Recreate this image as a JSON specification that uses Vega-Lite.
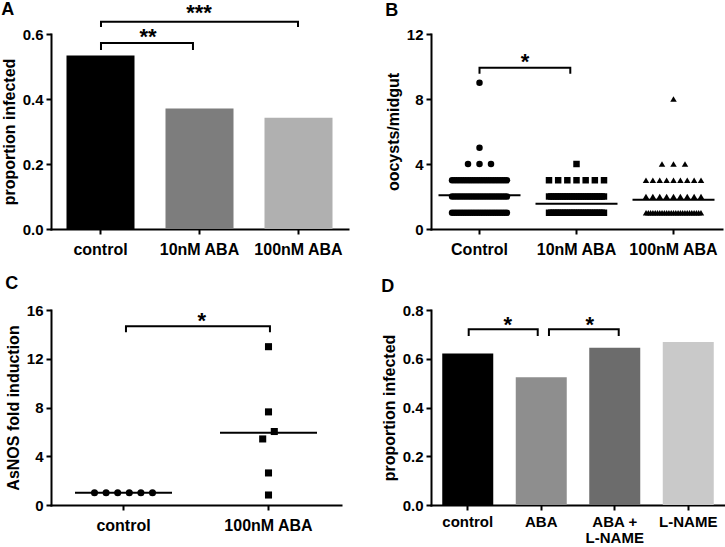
{
  "$schema": "https://vega.github.io/schema/vega-lite/v6.json",
  "padding": {"left": 1, "top": 0, "right": 0, "bottom": 0},
  "background": "white",
  "config": {
    "view": {"stroke": null},
    "font": "Liberation Sans",
    "axis": {
      "domainColor": "#000", "domainWidth": 2, "domainCap": "square",
      "tickColor": "#000", "tickWidth": 2, "tickSize": 5,
      "labelFont": "Liberation Sans", "labelFontWeight": "bold", "labelColor": "#000", "labelFontSize": 16, "labelPadding": 3,
      "titleFont": "Liberation Sans", "titleFontWeight": "bold", "titleColor": "#000", "titleFontSize": 16,
      "grid": false
    },
    "axisY": {"labelFontSize": 15, "titlePadding": 5},
    "axisX": {"labelAngle": 0, "labelPadding": 7},
    "title": {"anchor": "start", "font": "Liberation Sans", "fontSize": 18, "fontWeight": "bold", "color": "#000", "offset": 4}
  },
  "datasets": {
    "bp": [
      {"g":"Control","v":9,"k":0},
      {"g":"Control","v":5,"k":0},
      {"g":"Control","v":4,"k":-1},{"g":"Control","v":4,"k":0},{"g":"Control","v":4,"k":1},
      {"g":"Control","v":3,"k":-12},{"g":"Control","v":3,"k":-11},{"g":"Control","v":3,"k":-10},{"g":"Control","v":3,"k":-9},{"g":"Control","v":3,"k":-8},{"g":"Control","v":3,"k":-7},{"g":"Control","v":3,"k":-6},{"g":"Control","v":3,"k":-5},{"g":"Control","v":3,"k":-4},{"g":"Control","v":3,"k":-3},{"g":"Control","v":3,"k":-2},{"g":"Control","v":3,"k":-1},{"g":"Control","v":3,"k":0},{"g":"Control","v":3,"k":1},{"g":"Control","v":3,"k":2},{"g":"Control","v":3,"k":3},{"g":"Control","v":3,"k":4},{"g":"Control","v":3,"k":5},{"g":"Control","v":3,"k":6},{"g":"Control","v":3,"k":7},{"g":"Control","v":3,"k":8},{"g":"Control","v":3,"k":9},{"g":"Control","v":3,"k":10},{"g":"Control","v":3,"k":11},{"g":"Control","v":3,"k":12},
      {"g":"Control","v":2,"k":-12},{"g":"Control","v":2,"k":-11},{"g":"Control","v":2,"k":-10},{"g":"Control","v":2,"k":-9},{"g":"Control","v":2,"k":-8},{"g":"Control","v":2,"k":-7},{"g":"Control","v":2,"k":-6},{"g":"Control","v":2,"k":-5},{"g":"Control","v":2,"k":-4},{"g":"Control","v":2,"k":-3},{"g":"Control","v":2,"k":-2},{"g":"Control","v":2,"k":-1},{"g":"Control","v":2,"k":0},{"g":"Control","v":2,"k":1},{"g":"Control","v":2,"k":2},{"g":"Control","v":2,"k":3},{"g":"Control","v":2,"k":4},{"g":"Control","v":2,"k":5},{"g":"Control","v":2,"k":6},{"g":"Control","v":2,"k":7},{"g":"Control","v":2,"k":8},{"g":"Control","v":2,"k":9},{"g":"Control","v":2,"k":10},{"g":"Control","v":2,"k":11},{"g":"Control","v":2,"k":12},
      {"g":"Control","v":1,"k":-12},{"g":"Control","v":1,"k":-11},{"g":"Control","v":1,"k":-10},{"g":"Control","v":1,"k":-9},{"g":"Control","v":1,"k":-8},{"g":"Control","v":1,"k":-7},{"g":"Control","v":1,"k":-6},{"g":"Control","v":1,"k":-5},{"g":"Control","v":1,"k":-4},{"g":"Control","v":1,"k":-3},{"g":"Control","v":1,"k":-2},{"g":"Control","v":1,"k":-1},{"g":"Control","v":1,"k":0},{"g":"Control","v":1,"k":1},{"g":"Control","v":1,"k":2},{"g":"Control","v":1,"k":3},{"g":"Control","v":1,"k":4},{"g":"Control","v":1,"k":5},{"g":"Control","v":1,"k":6},{"g":"Control","v":1,"k":7},{"g":"Control","v":1,"k":8},{"g":"Control","v":1,"k":9},{"g":"Control","v":1,"k":10},{"g":"Control","v":1,"k":11},{"g":"Control","v":1,"k":12},
      {"g":"10nM ABA","v":4,"k":0},
      {"g":"10nM ABA","v":3,"k":-3},{"g":"10nM ABA","v":3,"k":-2},{"g":"10nM ABA","v":3,"k":-1},{"g":"10nM ABA","v":3,"k":0},{"g":"10nM ABA","v":3,"k":1},{"g":"10nM ABA","v":3,"k":2},{"g":"10nM ABA","v":3,"k":3},
      {"g":"10nM ABA","v":2,"k":-12},{"g":"10nM ABA","v":2,"k":-11},{"g":"10nM ABA","v":2,"k":-10},{"g":"10nM ABA","v":2,"k":-9},{"g":"10nM ABA","v":2,"k":-8},{"g":"10nM ABA","v":2,"k":-7},{"g":"10nM ABA","v":2,"k":-6},{"g":"10nM ABA","v":2,"k":-5},{"g":"10nM ABA","v":2,"k":-4},{"g":"10nM ABA","v":2,"k":-3},{"g":"10nM ABA","v":2,"k":-2},{"g":"10nM ABA","v":2,"k":-1},{"g":"10nM ABA","v":2,"k":0},{"g":"10nM ABA","v":2,"k":1},{"g":"10nM ABA","v":2,"k":2},{"g":"10nM ABA","v":2,"k":3},{"g":"10nM ABA","v":2,"k":4},{"g":"10nM ABA","v":2,"k":5},{"g":"10nM ABA","v":2,"k":6},{"g":"10nM ABA","v":2,"k":7},{"g":"10nM ABA","v":2,"k":8},{"g":"10nM ABA","v":2,"k":9},{"g":"10nM ABA","v":2,"k":10},{"g":"10nM ABA","v":2,"k":11},{"g":"10nM ABA","v":2,"k":12},
      {"g":"10nM ABA","v":1,"k":-12},{"g":"10nM ABA","v":1,"k":-11},{"g":"10nM ABA","v":1,"k":-10},{"g":"10nM ABA","v":1,"k":-9},{"g":"10nM ABA","v":1,"k":-8},{"g":"10nM ABA","v":1,"k":-7},{"g":"10nM ABA","v":1,"k":-6},{"g":"10nM ABA","v":1,"k":-5},{"g":"10nM ABA","v":1,"k":-4},{"g":"10nM ABA","v":1,"k":-3},{"g":"10nM ABA","v":1,"k":-2},{"g":"10nM ABA","v":1,"k":-1},{"g":"10nM ABA","v":1,"k":0},{"g":"10nM ABA","v":1,"k":1},{"g":"10nM ABA","v":1,"k":2},{"g":"10nM ABA","v":1,"k":3},{"g":"10nM ABA","v":1,"k":4},{"g":"10nM ABA","v":1,"k":5},{"g":"10nM ABA","v":1,"k":6},{"g":"10nM ABA","v":1,"k":7},{"g":"10nM ABA","v":1,"k":8},{"g":"10nM ABA","v":1,"k":9},{"g":"10nM ABA","v":1,"k":10},{"g":"10nM ABA","v":1,"k":11},{"g":"10nM ABA","v":1,"k":12},
      {"g":"100nM ABA","v":8,"k":0},
      {"g":"100nM ABA","v":4,"k":-1},{"g":"100nM ABA","v":4,"k":0},{"g":"100nM ABA","v":4,"k":1},
      {"g":"100nM ABA","v":3,"k":-4},{"g":"100nM ABA","v":3,"k":-3},{"g":"100nM ABA","v":3,"k":-2},{"g":"100nM ABA","v":3,"k":-1},{"g":"100nM ABA","v":3,"k":0},{"g":"100nM ABA","v":3,"k":1},{"g":"100nM ABA","v":3,"k":2},{"g":"100nM ABA","v":3,"k":3},{"g":"100nM ABA","v":3,"k":4},
      {"g":"100nM ABA","v":2,"k":-4},{"g":"100nM ABA","v":2,"k":-3},{"g":"100nM ABA","v":2,"k":-2},{"g":"100nM ABA","v":2,"k":-1},{"g":"100nM ABA","v":2,"k":0},{"g":"100nM ABA","v":2,"k":1},{"g":"100nM ABA","v":2,"k":2},{"g":"100nM ABA","v":2,"k":3},{"g":"100nM ABA","v":2,"k":4},
      {"g":"100nM ABA","v":1,"k":-12},{"g":"100nM ABA","v":1,"k":-11},{"g":"100nM ABA","v":1,"k":-10},{"g":"100nM ABA","v":1,"k":-9},{"g":"100nM ABA","v":1,"k":-8},{"g":"100nM ABA","v":1,"k":-7},{"g":"100nM ABA","v":1,"k":-6},{"g":"100nM ABA","v":1,"k":-5},{"g":"100nM ABA","v":1,"k":-4},{"g":"100nM ABA","v":1,"k":-3},{"g":"100nM ABA","v":1,"k":-2},{"g":"100nM ABA","v":1,"k":-1},{"g":"100nM ABA","v":1,"k":0},{"g":"100nM ABA","v":1,"k":1},{"g":"100nM ABA","v":1,"k":2},{"g":"100nM ABA","v":1,"k":3},{"g":"100nM ABA","v":1,"k":4},{"g":"100nM ABA","v":1,"k":5},{"g":"100nM ABA","v":1,"k":6},{"g":"100nM ABA","v":1,"k":7},{"g":"100nM ABA","v":1,"k":8},{"g":"100nM ABA","v":1,"k":9},{"g":"100nM ABA","v":1,"k":10},{"g":"100nM ABA","v":1,"k":11},{"g":"100nM ABA","v":1,"k":12}
    ]
  },
  "columns": 2,
  "spacing": {"row": 81, "column": 83},
  "bounds": "flush",
  "resolve": {"scale": {"color": "independent", "shape": "independent"}},
  "concat": [
    {
      "width": 297, "height": 195,
      "title": {"text": "A", "offset": -17},
      "resolve": {"scale": {"x": "independent"}},
      "layer": [
        {
          "data": {"values": [{"g":"control","p":0.534},{"g":"10nM ABA","p":0.371},{"g":"100nM ABA","p":0.342}]},
          "mark": {"type": "bar", "width": 68},
          "encoding": {
            "x": {"field":"g","type":"nominal","sort":null,"title":null,"scale":{"paddingInner":0.31,"paddingOuter":0.155}},
            "y": {"field":"p","type":"quantitative","title":"proportion infected","scale":{"domain":[0,0.6],"nice":false},
                  "axis":{"values":[0,0.1,0.2,0.3,0.4,0.5,0.6],"format":".1f","labelExpr":"indexof(['0.0','0.2','0.4','0.6'], datum.label) >= 0 ? datum.label : ''"}},
            "color": {"field":"g","type":"nominal","legend":null,"scale":{"domain":["control","10nM ABA","100nM ABA"],"range":["#000000","#7d7d7d","#b0b0b0"]}}
          }
        },
        {
          "data": {"values": [
            {"b":1,"o":1,"x":0.505,"y":0.554},{"b":1,"o":2,"x":0.505,"y":0.572},{"b":1,"o":3,"x":1.434,"y":0.572},{"b":1,"o":4,"x":1.434,"y":0.554},
            {"b":2,"o":1,"x":0.505,"y":0.625},{"b":2,"o":2,"x":0.505,"y":0.638},{"b":2,"o":3,"x":2.495,"y":0.638},{"b":2,"o":4,"x":2.495,"y":0.625}
          ]},
          "mark": {"type":"line","color":"#000","strokeWidth":2,"strokeJoin":"miter","strokeCap":"square"},
          "encoding": {
            "x": {"field":"x","type":"quantitative","scale":{"domain":[0,3],"nice":false,"zero":false},"axis":null},
            "y": {"field":"y","type":"quantitative","title":"proportion infected","scale":{"domain":[0,0.6],"nice":false}},
            "detail": {"field":"b","type":"nominal"},
            "order": {"field":"o","type":"quantitative"}
          }
        },
        {
          "data": {"values": [{"t":"**","x":0.98,"y":0.5677},{"t":"***","x":1.495,"y":0.644}]},
          "mark": {"type":"text","font":"Liberation Sans","fontSize":22,"fontWeight":"bold","baseline":"alphabetic","color":"#000"},
          "encoding": {
            "x": {"field":"x","type":"quantitative","scale":{"domain":[0,3],"nice":false,"zero":false},"axis":null},
            "y": {"field":"y","type":"quantitative","title":"proportion infected","scale":{"domain":[0,0.6],"nice":false}},
            "text": {"field":"t"}
          }
        }
      ]
    },
    {
      "width": 291, "height": 195,
      "title": {"text": "B", "offset": 7},
      "resolve": {"scale": {"x": "independent", "xOffset": "independent"}},
      "layer": [
        {
          "data": {"name": "bp"},
          "transform": [{"joinaggregate":[{"op":"count","as":"n"}],"groupby":["g","v"]},{"filter":"datum.n <= 3"}],
          "mark": {"type":"point","filled":true,"color":"#000","opacity":1,"size":42},
          "encoding": {
            "x": {"field":"g","type":"nominal","axis":null,"scale":{"type":"band","domain":["Control","10nM ABA","100nM ABA"],"paddingInner":0,"paddingOuter":0}},
            "xOffset": {"field":"k","type":"quantitative","scale":{"domain":[-4.217,4.217],"range":[0,97]}},
            "y": {"field":"v","type":"quantitative","title":"oocysts/midgut","scale":{"domain":[0,12],"nice":false},
                  "axis":{"values":[0,2,4,6,8,10,12],"labelExpr":"datum.value % 4 == 0 ? datum.label : ''"}},
            "shape": {"field":"g","type":"nominal","legend":null,"scale":{"domain":["Control","10nM ABA","100nM ABA"],"range":["circle","square","triangle-up"]}}
          }
        },
        {
          "data": {"name": "bp"},
          "transform": [{"joinaggregate":[{"op":"count","as":"n"}],"groupby":["g","v"]},{"filter":"datum.n == 7"}],
          "mark": {"type":"point","filled":true,"color":"#000","opacity":1,"size":42},
          "encoding": {
            "x": {"field":"g","type":"nominal","axis":null,"scale":{"type":"band","domain":["Control","10nM ABA","100nM ABA"],"paddingInner":0,"paddingOuter":0}},
            "xOffset": {"field":"k","type":"quantitative","scale":{"domain":[-5.29,5.29],"range":[0,97]}},
            "y": {"field":"v","type":"quantitative","title":"oocysts/midgut","scale":{"domain":[0,12],"nice":false}},
            "shape": {"field":"g","type":"nominal","legend":null,"scale":{"domain":["Control","10nM ABA","100nM ABA"],"range":["circle","square","triangle-up"]}}
          }
        },
        {
          "data": {"name": "bp"},
          "transform": [{"joinaggregate":[{"op":"count","as":"n"}],"groupby":["g","v"]},{"filter":"datum.n == 9"}],
          "mark": {"type":"point","filled":true,"color":"#000","opacity":1,"size":42},
          "encoding": {
            "x": {"field":"g","type":"nominal","axis":null,"scale":{"type":"band","domain":["Control","10nM ABA","100nM ABA"],"paddingInner":0,"paddingOuter":0}},
            "xOffset": {"field":"k","type":"quantitative","scale":{"domain":[-7.05,7.05],"range":[0,97]}},
            "y": {"field":"v","type":"quantitative","title":"oocysts/midgut","scale":{"domain":[0,12],"nice":false}},
            "shape": {"field":"g","type":"nominal","legend":null,"scale":{"domain":["Control","10nM ABA","100nM ABA"],"range":["circle","square","triangle-up"]}}
          }
        },
        {
          "data": {"name": "bp"},
          "transform": [{"joinaggregate":[{"op":"count","as":"n"}],"groupby":["g","v"]},{"filter":"datum.n >= 20"}],
          "mark": {"type":"point","filled":true,"color":"#000","opacity":1,"size":42},
          "encoding": {
            "x": {"field":"g","type":"nominal","axis":null,"scale":{"type":"band","domain":["Control","10nM ABA","100nM ABA"],"paddingInner":0,"paddingOuter":0}},
            "xOffset": {"field":"k","type":"quantitative","scale":{"domain":[-21.2,21.2],"range":[0,97]}},
            "y": {"field":"v","type":"quantitative","title":"oocysts/midgut","scale":{"domain":[0,12],"nice":false}},
            "shape": {"field":"g","type":"nominal","legend":null,"scale":{"domain":["Control","10nM ABA","100nM ABA"],"range":["circle","square","triangle-up"]}}
          }
        },
        {
          "data": {"values": [{"g":"Control","m":2.07},{"g":"10nM ABA","m":1.56},{"g":"100nM ABA","m":1.8}]},
          "mark": {"type":"tick","color":"#000","size":82,"thickness":2,"opacity":1},
          "encoding": {
            "x": {"field":"g","type":"nominal","title":null,"scale":{"type":"band","domain":["Control","10nM ABA","100nM ABA"],"paddingInner":0,"paddingOuter":0}},
            "y": {"field":"m","type":"quantitative","title":"oocysts/midgut","scale":{"domain":[0,12],"nice":false}}
          }
        },
        {
          "data": {"values": [{"b":1,"o":1,"x":0.5,"y":9.62},{"b":1,"o":2,"x":0.5,"y":9.93},{"b":1,"o":3,"x":1.436,"y":9.93},{"b":1,"o":4,"x":1.436,"y":9.62}]},
          "mark": {"type":"line","color":"#000","strokeWidth":2,"strokeJoin":"miter","strokeCap":"square"},
          "encoding": {
            "x": {"field":"x","type":"quantitative","scale":{"domain":[0,3],"nice":false,"zero":false},"axis":null},
            "y": {"field":"y","type":"quantitative","title":"oocysts/midgut","scale":{"domain":[0,12],"nice":false}},
            "detail": {"field":"b","type":"nominal"},
            "order": {"field":"o","type":"quantitative"}
          }
        },
        {
          "data": {"values": [{"t":"*","x":0.969,"y":9.82}]},
          "mark": {"type":"text","font":"Liberation Sans","fontSize":22,"fontWeight":"bold","baseline":"alphabetic","color":"#000"},
          "encoding": {
            "x": {"field":"x","type":"quantitative","scale":{"domain":[0,3],"nice":false,"zero":false},"axis":null},
            "y": {"field":"y","type":"quantitative","title":"oocysts/midgut","scale":{"domain":[0,12],"nice":false}},
            "text": {"field":"t"}
          }
        }
      ]
    },
    {
      "width": 290, "height": 195,
      "title": {"text": "C", "offset": 10},
      "resolve": {"scale": {"x": "independent"}},
      "layer": [
        {
          "data": {"values": [
            {"g":"control","v":1.0,"k":-2.5},{"g":"control","v":1.0,"k":-1.5},{"g":"control","v":1.0,"k":-0.5},{"g":"control","v":1.0,"k":0.5},{"g":"control","v":1.0,"k":1.5},{"g":"control","v":1.0,"k":2.5},
            {"g":"100nM ABA","v":12.99,"k":0},{"g":"100nM ABA","v":7.64,"k":0},{"g":"100nM ABA","v":6.03,"k":0.5},{"g":"100nM ABA","v":5.42,"k":-0.5},{"g":"100nM ABA","v":2.63,"k":0},{"g":"100nM ABA","v":0.82,"k":0}
          ]},
          "mark": {"type":"point","filled":true,"color":"#000","opacity":1,"size":50},
          "encoding": {
            "x": {"field":"g","type":"nominal","axis":null,"scale":{"type":"band","domain":["control","100nM ABA"],"paddingInner":0,"paddingOuter":0}},
            "xOffset": {"field":"k","type":"quantitative","scale":{"domain":[-6.25,6.25],"range":[0,145]}},
            "y": {"field":"v","type":"quantitative","title":"AsNOS fold induction","scale":{"domain":[0,16],"nice":false},
                  "axis":{"values":[0,2,4,6,8,10,12,14,16],"labelExpr":"datum.value % 4 == 0 ? datum.label : ''"}},
            "shape": {"field":"g","type":"nominal","legend":null,"scale":{"domain":["control","100nM ABA"],"range":["circle","square"]}}
          }
        },
        {
          "data": {"values": [{"g":"control","m":1.0},{"g":"100nM ABA","m":5.93}]},
          "mark": {"type":"tick","color":"#000","size":97,"thickness":2,"opacity":1},
          "encoding": {
            "x": {"field":"g","type":"nominal","title":null,"scale":{"type":"band","domain":["control","100nM ABA"],"paddingInner":0,"paddingOuter":0}},
            "y": {"field":"m","type":"quantitative","title":"AsNOS fold induction","scale":{"domain":[0,16],"nice":false}}
          }
        },
        {
          "data": {"values": [{"b":1,"o":1,"x":0.517,"y":14.25},{"b":1,"o":2,"x":0.517,"y":14.66},{"b":1,"o":3,"x":1.51,"y":14.66},{"b":1,"o":4,"x":1.51,"y":14.25}]},
          "mark": {"type":"line","color":"#000","strokeWidth":2,"strokeJoin":"miter","strokeCap":"square"},
          "encoding": {
            "x": {"field":"x","type":"quantitative","scale":{"domain":[0,2],"nice":false,"zero":false},"axis":null},
            "y": {"field":"y","type":"quantitative","title":"AsNOS fold induction","scale":{"domain":[0,16],"nice":false}},
            "detail": {"field":"b","type":"nominal"},
            "order": {"field":"o","type":"quantitative"}
          }
        },
        {
          "data": {"values": [{"t":"*","x":1.04,"y":14.56}]},
          "mark": {"type":"text","font":"Liberation Sans","fontSize":22,"fontWeight":"bold","baseline":"alphabetic","color":"#000"},
          "encoding": {
            "x": {"field":"x","type":"quantitative","scale":{"domain":[0,2],"nice":false,"zero":false},"axis":null},
            "y": {"field":"y","type":"quantitative","title":"AsNOS fold induction","scale":{"domain":[0,16],"nice":false}},
            "text": {"field":"t"}
          }
        }
      ]
    },
    {
      "width": 294, "height": 195,
      "title": {"text": "D", "offset": 7},
      "resolve": {"scale": {"x": "independent"}},
      "layer": [
        {
          "data": {"values": [{"g":"control","p":0.622},{"g":"ABA","p":0.524},{"g":"ABA + L-NAME","p":0.645},{"g":"L-NAME","p":0.669}]},
          "mark": {"type": "bar", "width": 51},
          "encoding": {
            "x": {"field":"g","type":"nominal","sort":null,"title":null,"scale":{"paddingInner":0.306,"paddingOuter":0.153},
                  "axis":{"labelExpr":"datum.label == 'ABA + L-NAME' ? ['ABA +', 'L-NAME'] : datum.label","labelFontSize":15,"labelLineHeight":16,"labelPadding":4}},
            "y": {"field":"p","type":"quantitative","title":"proportion infected","scale":{"domain":[0,0.8],"nice":false},
                  "axis":{"values":[0,0.1,0.2,0.3,0.4,0.5,0.6,0.7,0.8],"format":".1f","labelExpr":"indexof(['0.0','0.2','0.4','0.6','0.8'], datum.label) >= 0 ? datum.label : ''"}},
            "color": {"field":"g","type":"nominal","legend":null,"scale":{"domain":["control","ABA","ABA + L-NAME","L-NAME"],"range":["#000000","#8e8e8e","#6c6c6c","#c9c9c9"]}}
          }
        },
        {
          "data": {"values": [
            {"b":1,"o":1,"x":0.513,"y":0.697},{"b":1,"o":2,"x":0.513,"y":0.721},{"b":1,"o":3,"x":1.452,"y":0.721},{"b":1,"o":4,"x":1.452,"y":0.697},
            {"b":2,"o":1,"x":1.605,"y":0.697},{"b":2,"o":2,"x":1.605,"y":0.721},{"b":2,"o":3,"x":2.554,"y":0.721},{"b":2,"o":4,"x":2.554,"y":0.697}
          ]},
          "mark": {"type":"line","color":"#000","strokeWidth":2,"strokeJoin":"miter","strokeCap":"square"},
          "encoding": {
            "x": {"field":"x","type":"quantitative","scale":{"domain":[0,4],"nice":false,"zero":false},"axis":null},
            "y": {"field":"y","type":"quantitative","title":"proportion infected","scale":{"domain":[0,0.8],"nice":false}},
            "detail": {"field":"b","type":"nominal"},
            "order": {"field":"o","type":"quantitative"}
          }
        },
        {
          "data": {"values": [{"t":"*","x":1.043,"y":0.7106},{"t":"*","x":2.159,"y":0.7106}]},
          "mark": {"type":"text","font":"Liberation Sans","fontSize":22,"fontWeight":"bold","baseline":"alphabetic","color":"#000"},
          "encoding": {
            "x": {"field":"x","type":"quantitative","scale":{"domain":[0,4],"nice":false,"zero":false},"axis":null},
            "y": {"field":"y","type":"quantitative","title":"proportion infected","scale":{"domain":[0,0.8],"nice":false}},
            "text": {"field":"t"}
          }
        }
      ]
    }
  ]
}
